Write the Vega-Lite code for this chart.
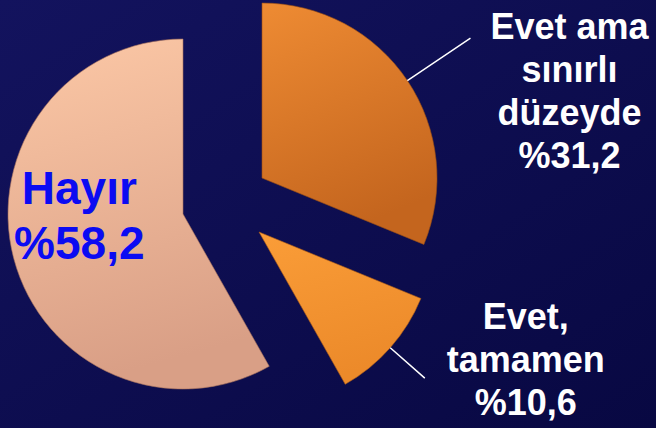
{
  "$schema": "https://vega.github.io/schema/vega-lite/v6.json",
  "width": 656,
  "height": 428,
  "autosize": "none",
  "padding": 0,
  "background": "#0d0d50",
  "view": {
    "stroke": null,
    "fill": {
      "gradient": "linear",
      "x1": 0, "y1": 0, "x2": 1, "y2": 1,
      "stops": [
        {"offset": 0, "color": "#13135e"},
        {"offset": 1, "color": "#080842"}
      ]
    }
  },
  "data": {
    "values": [
      {"cevap": "Evet ama sınırlı düzeyde", "yuzde": 31.2, "etiket": "Evet ama\nsınırlı\ndüzeyde\n%31,2"},
      {"cevap": "Evet, tamamen", "yuzde": 10.6, "etiket": "Evet,\ntamamen\n%10,6"},
      {"cevap": "Hayır", "yuzde": 58.2, "etiket": "Hayır\n%58,2"}
    ]
  },
  "transform": [
    {"stack": "yuzde", "groupby": [], "sort": [{"field": "cevap", "order": "ascending"}], "as": ["bas", "son"]},
    {"calculate": "(datum.bas + datum.son) / 2", "as": "orta"}
  ],
  "layer": [
    {
      "transform": [{"filter": "datum.cevap === 'Evet ama sınırlı düzeyde'"}],
      "mark": {
        "type": "arc", "outerRadius": 175, "xOffset": -66, "yOffset": -36,
        "fill": {"gradient": "linear", "x1": 0, "y1": 0, "x2": 0.3, "y2": 1,
          "stops": [{"offset": 0, "color": "#ee8b33"}, {"offset": 1, "color": "#c4651e"}]},
        "stroke": "#9a4e14", "strokeWidth": 1, "strokeOpacity": 0.6
      },
      "encoding": {
        "theta": {"field": "bas", "type": "quantitative", "scale": {"domain": [0, 100]}},
        "theta2": {"field": "son"}
      }
    },
    {
      "transform": [{"filter": "datum.cevap === 'Evet, tamamen'"}],
      "mark": {
        "type": "arc", "outerRadius": 175, "xOffset": -69, "yOffset": 18,
        "fill": {"gradient": "linear", "x1": 0, "y1": 0, "x2": 0.3, "y2": 1,
          "stops": [{"offset": 0, "color": "#fa9d38"}, {"offset": 1, "color": "#ec8a2a"}]},
        "stroke": "#a85a18", "strokeWidth": 1, "strokeOpacity": 0.6
      },
      "encoding": {
        "theta": {"field": "bas", "type": "quantitative", "scale": {"domain": [0, 100]}},
        "theta2": {"field": "son"}
      }
    },
    {
      "transform": [{"filter": "datum.cevap === 'Hayır'"}],
      "mark": {
        "type": "arc", "outerRadius": 175, "xOffset": -145, "yOffset": 0,
        "fill": {"gradient": "linear", "x1": 0, "y1": 0, "x2": 0.2, "y2": 1,
          "stops": [{"offset": 0, "color": "#fcc8a6"}, {"offset": 1, "color": "#d99f86"}]},
        "stroke": "#a8735e", "strokeWidth": 1, "strokeOpacity": 0.6
      },
      "encoding": {
        "theta": {"field": "bas", "type": "quantitative", "scale": {"domain": [0, 100]}},
        "theta2": {"field": "son"}
      }
    },
    {
      "transform": [{"filter": "datum.cevap === 'Evet ama sınırlı düzeyde'"}],
      "mark": {"type": "arc", "innerRadius": 175, "outerRadius": 251, "xOffset": -66, "yOffset": -36, "filled": false, "stroke": "white", "strokeWidth": 1.5},
      "encoding": {
        "theta": {"field": "orta", "type": "quantitative"},
        "theta2": {"field": "orta"}
      }
    },
    {
      "transform": [{"filter": "datum.cevap === 'Evet, tamamen'"}],
      "mark": {"type": "arc", "innerRadius": 175, "outerRadius": 221, "xOffset": -69, "yOffset": 18, "filled": false, "stroke": "white", "strokeWidth": 1.5},
      "encoding": {
        "theta": {"field": "orta", "type": "quantitative"},
        "theta2": {"field": "orta"}
      }
    },
    {
      "transform": [{"filter": "datum.cevap === 'Evet ama sınırlı düzeyde'"}],
      "mark": {"type": "text", "radius": 251, "xOffset": -66, "yOffset": -36, "dx": 99, "dy": -10,
        "align": "center", "baseline": "middle", "lineBreak": "\n", "lineHeight": 43,
        "fontSize": 36, "fontWeight": "bold", "font": "Liberation Sans", "color": "#ffffff"},
      "encoding": {
        "theta": {"field": "orta", "type": "quantitative"},
        "text": {"field": "etiket"}
      }
    },
    {
      "transform": [{"filter": "datum.cevap === 'Evet, tamamen'"}],
      "mark": {"type": "text", "radius": 221, "xOffset": -69, "yOffset": 18, "dx": 101, "dy": -60,
        "align": "center", "baseline": "middle", "lineBreak": "\n", "lineHeight": 43,
        "fontSize": 36, "fontWeight": "bold", "font": "Liberation Sans", "color": "#ffffff"},
      "encoding": {
        "theta": {"field": "orta", "type": "quantitative"},
        "text": {"field": "etiket"}
      }
    },
    {
      "transform": [{"filter": "datum.cevap === 'Hayır'"}],
      "mark": {"type": "text", "radius": 100, "xOffset": -145, "yOffset": 0, "dx": -7, "dy": -49,
        "align": "center", "baseline": "middle", "lineBreak": "\n", "lineHeight": 55,
        "fontSize": 46, "fontWeight": "bold", "font": "Liberation Sans", "color": "#0b0bf2"},
      "encoding": {
        "theta": {"field": "orta", "type": "quantitative"},
        "text": {"field": "etiket"}
      }
    }
  ]
}
